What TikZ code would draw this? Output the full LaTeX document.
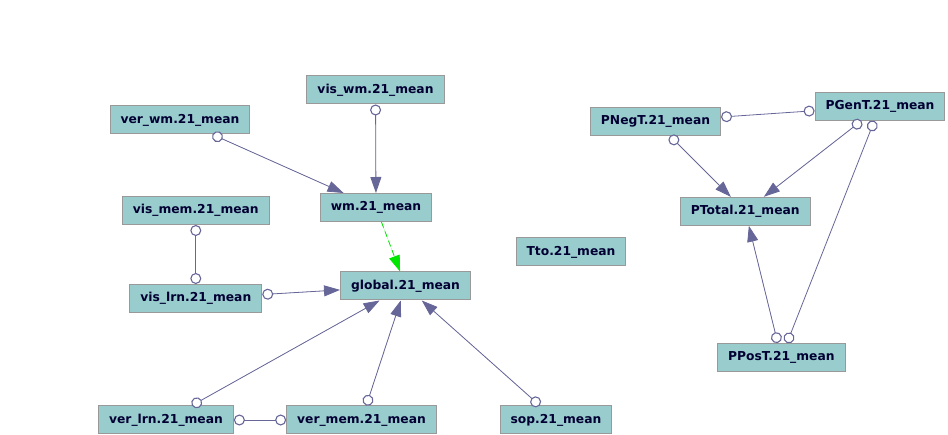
\documentclass[tikz,border=0pt]{standalone}
\usepackage{fontspec}
\setmainfont{DejaVu Sans}
\usetikzlibrary{arrows.meta}
\definecolor{nodefill}{RGB}{153,204,204}
\definecolor{nodeline}{RGB}{153,153,153}
\definecolor{nodetext}{RGB}{0,0,51}
\definecolor{edgeblue}{RGB}{102,102,153}
\definecolor{dashgreen}{RGB}{0,230,0}
\begin{document}
\begin{tikzpicture}[x=1pt,y=-1pt,line width=0.8pt]
	\tikzstyle{v-node}=[rectangle,draw=nodeline,fill=nodefill,text=nodetext,line width=1pt,inner xsep=10.5pt,inner ysep=0pt,minimum height=28pt,font=\fontsize{12.3}{14}\selectfont\bfseries]
	\tikzstyle{o-arrow}=[draw=edgeblue,fill=edgeblue,{Circle[open,length=11pt,fill=white,line width=1.1pt]}-{Triangle[length=16pt,width=11pt]}]
	\tikzstyle{o-o}=[draw=edgeblue,{Circle[open,length=11pt,fill=white,line width=1.1pt]}-{Circle[open,length=11pt,fill=white,line width=1.1pt]}]
	\tikzstyle{g-arrow}=[draw=dashgreen,fill=dashgreen,dash pattern=on 6pt off 4pt,-{Triangle[length=16pt,width=11pt]}]
	\useasboundingbox (0,0) rectangle (948,435);

	% working memory block
	\node[v-node] 	(viswm)	at (375.5,90)		{vis\_wm.21\_mean};
	\node[v-node] 	(verwm)	at (180,120)		{ver\_wm.21\_mean};
	\node[v-node] 	(wm)	at (376,207.5)		{wm.21\_mean};
	\node[v-node] 	(vismem)	at (195.8,210.5)	{vis\_mem.21\_mean};

	% global score
	\node[v-node] 	(global)	at (405.5,286)		{global.21\_mean};
	\node[v-node] 	(vislrn)	at (195.8,298.5)	{vis\_lrn.21\_mean};
	\node[v-node] 	(verlrn)	at (166,420)		{ver\_lrn.21\_mean};
	\node[v-node] 	(vermem)	at (361.5,420)		{ver\_mem.21\_mean};
	\node[v-node] 	(sop)	at (556,420)		{sop.21\_mean};
	\node[v-node] 	(tto)	at (571,252)		{Tto.21\_mean};

	% P scales
	\node[v-node] 	(pneg)	at (655.5,121.5)	{PNegT.21\_mean};
	\node[v-node] 	(pgen)	at (880,106.3)		{PGenT.21\_mean};
	\node[v-node] 	(ptot)	at (745.3,211.3)	{PTotal.21\_mean};
	\node[v-node] 	(ppos)	at (781.3,357.5)	{PPosT.21\_mean};

	\path
		(verwm)	edge[o-arrow]	(wm)
		(viswm)	edge[o-arrow]	(wm)
		(wm)	edge[g-arrow]	(global)
		%
		(vismem)	edge[o-o]	(vislrn)
		(vislrn)	edge[o-arrow]	(global)
		(verlrn)	edge[o-arrow]	(global)
		(vermem)	edge[o-arrow]	(global)
		(sop)	edge[o-arrow]	(global)
		(verlrn)	edge[o-o]	(vermem)
		%
		(pneg)	edge[o-o]	(pgen)
		(pneg)	edge[o-arrow]	(ptot)
		(pgen)	edge[o-arrow]	(ptot)
		(ppos)	edge[o-arrow]	(ptot)
		(pgen)	edge[o-o]	(ppos);
\end{tikzpicture}
\end{document}
